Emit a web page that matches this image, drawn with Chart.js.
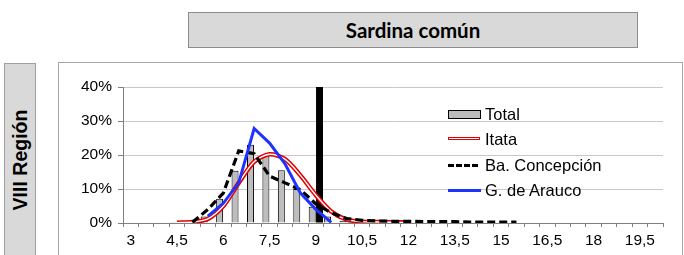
<!DOCTYPE html>
<html>
<head>
<meta charset="utf-8">
<script src="https://cdn.jsdelivr.net/npm/chart.js@4/dist/chart.umd.min.js"></script>
<style>
  html, body { margin: 0; padding: 0; background: #fff; }
  body { width: 684px; height: 255px; position: relative; overflow: hidden; font-family: "Liberation Sans", Arial, sans-serif; }
  #titleBox { position: absolute; left: 188px; top: 12px; width: 448px; height: 34px; background: #d9d9d9; border: 1px solid #8c8c8c;
    display: flex; align-items: center; justify-content: center; font-family: Lato, sans-serif; font-weight: bold; font-size: 20.5px; color: #000; }
  #yBox { position: absolute; left: 4px; top: 63px; width: 30px; height: 200px; background: #d9d9d9; border: 1px solid #a0a0a0; }
  #yBox span { position: absolute; left: 50%; top: 96px; transform: translate(-50%, -50%) rotate(-90deg); white-space: nowrap;
    font-weight: bold; font-size: 19.5px; color: #000; }
  #frame { position: absolute; left: 58px; top: 62px; width: 623px; height: 210px; border: 1px solid #a6a6a6; }
  #wrap { position: absolute; left: 58px; top: 63px; width: 626px; height: 192px; }
  #legend { position: absolute; left: 448px; top: 104px; }
  .row { position: absolute; left: 0; height: 20px; white-space: nowrap; font-size: 16.5px; color: #000; line-height: 20px; }
  .mk { position: absolute; left: 0; top: 50%; width: 33px; }
  .lbl { position: absolute; left: 37px; top: 0; }
</style>
</head>
<body>
<div id="titleBox">Sardina común</div>
<div id="yBox"><span>VIII Región</span></div>
<div id="frame"></div>
<div id="wrap"><canvas id="c" width="626" height="192"></canvas></div>
<div id="legend"></div>
<script>
// Talla (cm) categories
const sizes = [3,3.5,4,4.5,5,5.5,6,6.5,7,7.5,8,8.5,9,9.5,10,10.5,11,11.5,12,12.5,13,13.5,14,14.5,15,15.5,16,16.5,17,17.5,18,18.5,19,19.5,20];
const seriesNames = ['Total', 'Itata', 'Ba. Concepción', 'G. de Arauco'];
// percentages
const total =   [null,null,null,0.1,0.4,1.9,7.1,15.4,23.0,19.6,15.5,10.0,4.8,1.9,0.6,0.2,0.1,null,null,null,null,null,null,null,null,null,null,null,null,null,null,null,null,null,null];
const marker =  [null,null,null,null,null,null,null,null,null,null,null,null,40,null,null,null,null,null,null,null,null,null,null,null,null,null,null,null,null,null,null,null,null,null,null];
const itata =   [null,null,null,0.1,0.3,1.2,5.0,11.8,18.0,20.2,18.8,14.0,8.2,3.4,1.0,0.4,0.3,0.2,0.2,null,null,null,null,null,null,null,null,null,null,null,null,null,null,null,null];
const concep =  [null,null,null,null,0.2,4.0,8.8,21.2,20.4,13.8,11.8,9.8,5.6,3.0,1.3,0.8,0.6,0.5,0.5,0.4,0.4,0.4,0.3,0.3,0.3,0.3,null,null,null,null,null,null,null,null,null];
const arauco =  [null,null,null,null,null,2.0,5.8,11.8,27.8,23.5,17.4,8.8,4.0,0.2,null,null,null,null,null,null,null,null,null,null,null,null,null,null,null,null,null,null,null,null,null];
const yTicks = [0,10,20,30,40];

const labels = sizes.map(v => String(v).replace('.', ','));
const FONT = "'Liberation Sans', Arial, sans-serif";

new Chart(document.getElementById('c'), {
  type: 'bar',
  data: {
    labels: labels,
    datasets: [
      { type: 'bar', label: seriesNames[0], data: total, backgroundColor: '#bdbdbd', borderColor: '#000', borderWidth: 1,
        categoryPercentage: 0.95, barPercentage: 0.95, order: 5 },
      { type: 'bar', label: 'marca', data: marker, backgroundColor: '#000', borderColor: '#000', borderWidth: 0,
        categoryPercentage: 0.95, barPercentage: 0.95, order: 6 },
      { type: 'line', label: seriesNames[1], data: itata, borderColor: '#e00000', borderWidth: 4.5, pointRadius: 0, tension: 0.3, order: 4 },
      { type: 'line', label: seriesNames[1] + ' core', data: itata, borderColor: '#ffffff', borderWidth: 1.4, pointRadius: 0, tension: 0.3, order: 3 },
      { type: 'line', label: seriesNames[2], data: concep, borderColor: '#000', borderWidth: 3.2, borderDash: [8, 4], pointRadius: 0, tension: 0, order: 2 },
      { type: 'line', label: seriesNames[3], data: arauco, borderColor: '#1f33ff', borderWidth: 3, pointRadius: 0, tension: 0, order: 1 }
    ]
  },
  options: {
    responsive: false,
    animation: false,
    devicePixelRatio: 1,
    layout: { padding: { left: 0, top: 24, right: 21, bottom: 0 } },
    plugins: { legend: { display: false }, tooltip: { enabled: false }, title: { display: false } },
    scales: {
      x: {
        offset: true,
        grid: { drawOnChartArea: false, offset: true, tickLength: 4, color: '#808080', tickColor: '#808080' },
        border: { color: '#808080', width: 1 },
        ticks: { autoSkip: false, maxRotation: 0, minRotation: 0, padding: 4, color: '#000', font: { family: FONT, size: 15.5 },
          callback: function(v, i) { return i % 3 === 0 ? labels[i] : ''; } },
        afterFit: s => { s.height = 32; }
      },
      y: {
        min: 0, max: 40,
        afterBuildTicks: s => { s.ticks = yTicks.map(v => ({ value: v })); },
        grid: { color: '#c8c8c8', borderDash: [1, 2], tickLength: 5, tickColor: '#808080', tickBorderDash: [], lineWidth: 1 },
        border: { color: '#808080', width: 1 },
        ticks: { padding: 6, color: '#000', font: { family: FONT, size: 15.5 }, callback: v => v + '%' },
        afterFit: s => { s.width = 65; }
      }
    }
  }
});

// HTML legend built from series names
const legend = document.getElementById('legend');
const rowTops = [0, 25, 51, 76];
const markers = [
  '<div class="mk" style="height:7px;margin-top:-4px;background:#bdbdbd;border:1px solid #000;width:31px"></div>',
  '<div class="mk" style="height:1.5px;margin-top:-2.5px;background:#fff;border:1.5px solid #e00000;width:30px"></div>',
  '<div class="mk" style="height:0;margin-top:-1.5px;border-top:3px dashed #000;width:30px"></div>',
  '<div class="mk" style="height:3px;margin-top:-1.5px;background:#1f33ff;width:33px"></div>'
];
seriesNames.forEach((n, i) => {
  const r = document.createElement('div');
  r.className = 'row';
  r.style.top = rowTops[i] + 'px';
  r.innerHTML = markers[i] + '<span class="lbl"></span>';
  r.querySelector('.lbl').textContent = n;
  legend.appendChild(r);
});
</script>
</body>
</html>
